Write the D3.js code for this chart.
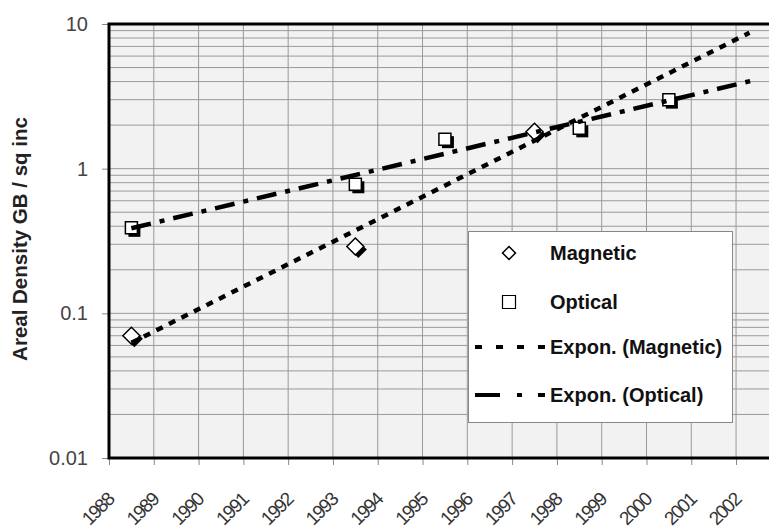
<!DOCTYPE html>
<html>
<head>
<meta charset="utf-8">
<script src="https://cdn.jsdelivr.net/npm/d3@7"></script>
<style>
  body { margin: 0; background: #fff; }
  svg { display: block; font-family: "Liberation Sans", Arial, sans-serif; }
</style>
</head>
<body>
<div id="chart"></div>
<script>
// data
const yearTicks = [1988, 1989, 1990, 1991, 1992, 1993, 1994, 1995, 1996, 1997, 1998, 1999, 2000, 2001, 2002];
const densityTicks = [0.01, 0.1, 1, 10];

const magneticYears = [1988.5, 1993.5, 1997.5];
const magneticDensity = [0.07, 0.29, 1.8];

const opticalYears = [1988.5, 1993.5, 1995.5, 1998.5, 2000.5];
const opticalDensity = [0.39, 0.78, 1.6, 1.9, 3.0];

// trendlines are forecast forward past the last point
const magneticTrendEnd = 2002.3;
const opticalTrendEnd = 2002.5;

const legendLabels = ["Magnetic", "Optical", "Expon. (Magnetic)", "Expon. (Optical)"];

const width = 769, height = 531;
const plotLeft = 109, plotTop = 24, plotBottom = 458;
const yearWidth = 44.79;

const svg = d3.select("#chart").append("svg")
    .attr("width", width)
    .attr("height", height);

const x = d3.scaleLinear()
    .domain([1988, 2003])
    .range([plotLeft, plotLeft + 15 * yearWidth]);

const y = d3.scaleLog()
    .domain([0.01, 10])
    .range([plotBottom, plotTop]);

// plot background
svg.append("rect")
    .attr("x", plotLeft).attr("y", plotTop)
    .attr("width", x(2003) - plotLeft).attr("height", plotBottom - plotTop)
    .attr("fill", "#f2f2f2");

// horizontal grid (1..9 per decade)
svg.append("g").selectAll("line")
    .data(y.ticks())
    .join("line")
    .attr("x1", plotLeft).attr("x2", x(2003))
    .attr("y1", d => y(d)).attr("y2", d => y(d))
    .attr("stroke", "#9a9a9a")
    .attr("stroke-width", 1);

// vertical grid
svg.append("g").selectAll("line")
    .data(yearTicks)
    .join("line")
    .attr("x1", d => x(d)).attr("x2", d => x(d))
    .attr("y1", plotTop).attr("y2", plotBottom)
    .attr("stroke", "#9a9a9a")
    .attr("stroke-width", 1);

// axes
const yAxis = svg.append("g")
    .attr("transform", `translate(${plotLeft},0)`)
    .call(d3.axisLeft(y).tickValues(densityTicks).tickSize(7).tickPadding(14).tickFormat(d3.format("~g")));
yAxis.select(".domain").remove();
yAxis.selectAll("line").attr("stroke", "#888");
yAxis.selectAll("text")
    .attr("font-size", 20)
    .attr("fill", "#444")
    .attr("font-family", "Liberation Sans, Arial, sans-serif");

const xAxis = svg.append("g")
    .attr("transform", `translate(0,${plotBottom})`)
    .call(d3.axisBottom(x).tickValues(yearTicks).tickSize(7).tickFormat(""));
xAxis.select(".domain").remove();
xAxis.selectAll("line").attr("stroke", "#888");

svg.append("g").selectAll("text")
    .data(yearTicks)
    .join("text")
    .attr("transform", d => `translate(${x(d) + 6},501) rotate(-45)`)
    .attr("text-anchor", "end")
    .attr("font-size", 19)
    .attr("letter-spacing", "-1.6px")
    .attr("fill", "#333")
    .text(d => d);

// border: top, left, bottom
svg.append("path")
    .attr("d", `M${x(2003)},${plotTop} H${plotLeft} V${plotBottom} H${x(2003)}`)
    .attr("fill", "none")
    .attr("stroke", "#000")
    .attr("stroke-width", 3);

// y axis title
svg.append("text")
    .attr("transform", `translate(27,${(plotTop + plotBottom) / 2 - 2}) rotate(-90)`)
    .attr("text-anchor", "middle")
    .attr("font-size", 20.5)
    .attr("font-weight", "bold")
    .attr("fill", "#222")
    .text("Areal Density GB / sq inc");

// markers
const diamond = r => `M0,${-r}L${r},0L0,${r}L${-r},0Z`;
const square = s => `M${-s / 2},${-s / 2}h${s}v${s}h${-s}Z`;

const magnetic = magneticYears.map((yr, i) => ({ yr, v: magneticDensity[i] }));
const optical = opticalYears.map((yr, i) => ({ yr, v: opticalDensity[i] }));

function drawMarkers(data, shape) {
    const g = svg.append("g");
    // shadow
    g.selectAll(".shadow")
        .data(data)
        .join("path")
        .attr("class", "shadow")
        .attr("d", shape)
        .attr("transform", d => `translate(${x(d.yr) + 3},${y(d.v) + 3})`)
        .attr("fill", "#000");
    g.selectAll(".mark")
        .data(data)
        .join("path")
        .attr("class", "mark")
        .attr("d", shape)
        .attr("transform", d => `translate(${x(d.yr)},${y(d.v)})`)
        .attr("fill", "#fff")
        .attr("stroke", "#000")
        .attr("stroke-width", 1.5);
}
drawMarkers(optical, square(12));
drawMarkers(magnetic, diamond(8.5));

// exponential trendline: least squares fit on log10 of the values
function expFit(data) {
    const mx = d3.mean(data, d => d.yr);
    const my = d3.mean(data, d => Math.log10(d.v));
    const sxy = d3.sum(data, d => (d.yr - mx) * (Math.log10(d.v) - my));
    const sxx = d3.sum(data, d => (d.yr - mx) ** 2);
    const b = sxy / sxx;
    return yr => Math.pow(10, my + b * (yr - mx));
}

function drawTrend(data, end, dash) {
    const f = expFit(data);
    const x0 = data[0].yr;
    svg.append("line")
        .attr("x1", x(x0)).attr("y1", y(f(x0)))
        .attr("x2", x(end)).attr("y2", y(f(end)))
        .attr("stroke", "#000")
        .attr("stroke-width", 4.5)
        .attr("stroke-dasharray", dash);
}
drawTrend(magnetic, magneticTrendEnd, "7,7");
drawTrend(optical, opticalTrendEnd, "20,9,5,9");

// legend
const legend = svg.append("g");
legend.append("rect")
    .attr("x", 468.5).attr("y", 231.5)
    .attr("width", 264).attr("height", 191)
    .attr("fill", "#fff")
    .attr("stroke", "#888")
    .attr("stroke-width", 1);

const rowY = [253, 302, 347, 395];

legend.append("path")
    .attr("d", diamond(6.5))
    .attr("transform", `translate(509,${rowY[0]})`)
    .attr("fill", "#fff").attr("stroke", "#000").attr("stroke-width", 1.5);
legend.append("path")
    .attr("d", square(13))
    .attr("transform", `translate(509,${rowY[1]})`)
    .attr("fill", "#fff").attr("stroke", "#000").attr("stroke-width", 1.2);
legend.append("line")
    .attr("x1", 475).attr("x2", 548)
    .attr("y1", rowY[2]).attr("y2", rowY[2])
    .attr("stroke", "#000").attr("stroke-width", 4)
    .attr("stroke-dasharray", "7,14");
legend.append("line")
    .attr("x1", 475).attr("x2", 548)
    .attr("y1", rowY[3]).attr("y2", rowY[3])
    .attr("stroke", "#000").attr("stroke-width", 4)
    .attr("stroke-dasharray", "25,17,5,16,7");

legend.selectAll("text")
    .data(legendLabels)
    .join("text")
    .attr("x", 550)
    .attr("y", (d, i) => rowY[i])
    .attr("dy", "0.36em")
    .attr("font-size", 20)
    .attr("font-weight", "bold")
    .attr("fill", "#111")
    .text(d => d);
</script>
</body>
</html>
